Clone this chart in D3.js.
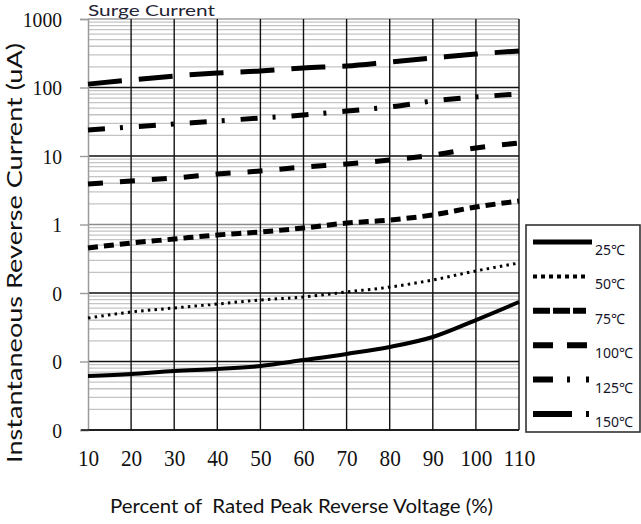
<!DOCTYPE html>
<html><head><meta charset="utf-8">
<script src="https://cdn.jsdelivr.net/npm/d3@7"></script>
<style>html,body{margin:0;padding:0;background:#fff;overflow:hidden}</style>
</head><body>
<svg id="chart" width="641" height="524" xmlns="http://www.w3.org/2000/svg"></svg>
<script>
// ---------- data ----------
const xValues = [10, 20, 30, 40, 50, 60, 70, 80, 90, 100, 110];
const xTickLabels = ["10", "20", "30", "40", "50", "60", "70", "80", "90", "100", "110"];
const yTickValues = [0.001, 0.01, 0.1, 1, 10, 100, 1000];
const yTickLabels = ["0", "0", "0", "1", "10", "100", "1000"];
const seriesNames = ["25℃", "50℃", "75℃", "100℃", "125℃", "150℃"];
const s25  = [0.00614, 0.00657, 0.00726, 0.00777, 0.00859, 0.0105, 0.0129, 0.0163, 0.0228, 0.0403, 0.0739];
const s50  = [0.0431, 0.0528, 0.0604, 0.0691, 0.0790, 0.0874, 0.1035, 0.122, 0.155, 0.210, 0.274];
const s75  = [0.454, 0.537, 0.614, 0.703, 0.777, 0.889, 1.05, 1.16, 1.38, 1.80, 2.20];
const s100 = [3.90, 4.32, 4.77, 5.46, 6.04, 6.90, 7.64, 8.74, 10.3, 13.1, 15.5];
const s125 = [24.0, 26.5, 29.3, 32.4, 35.9, 39.7, 45.4, 51.9, 63.5, 72.6, 80.4];
const s150 = [112, 129, 147, 163, 174, 193, 206, 236, 270, 308, 341];
const seriesValues = [s25, s50, s75, s100, s125, s150];

// ---------- styles ----------
const plotStyles = [
  {w: 4, dash: null},
  {w: 3, dash: "2.5,4.2"},
  {w: 5, dash: "10,6"},
  {w: 5, dash: "15,17"},
  {w: 5, dash: "17,15,3,16"},
  {w: 5, dash: "34,17"}
];
const legendStyles = [
  {w: 5, dash: null, len: 59},
  {w: 4, dash: "4,4", len: 56},
  {w: 6, dash: "17,3", len: 53},
  {w: 6, dash: "20,14", len: 54},
  {w: 6, dash: "20,14,3,16,3,100", len: 58},
  {w: 6, dash: "39,14,3,100", len: 58}
];

const svg = d3.select("#chart");
const L = 88, R = 519, T = 19, B = 430;
const x = d3.scaleLinear().domain([10, 110]).range([L, R]);
const y = d3.scaleLog().domain([0.001, 1000]).range([B, T]);

const textFont = "Lato, 'Open Sans', 'Noto Sans', sans-serif";
const numFont = "'Liberation Serif', 'DejaVu Serif', serif";

// minor gridlines
const minorTicks = y.ticks().filter(v => Math.abs(Math.log10(v) - Math.round(Math.log10(v))) > 1e-6);
svg.append("g").selectAll("line").data(minorTicks).join("line")
  .attr("x1", L).attr("x2", R)
  .attr("y1", d => y(d)).attr("y2", d => y(d))
  .attr("stroke", "#c4c4c4").attr("stroke-width", 1.3);

// major horizontal gridlines
svg.append("g").selectAll("line").data(yTickValues).join("line")
  .attr("x1", L).attr("x2", R)
  .attr("y1", d => y(d)).attr("y2", d => y(d))
  .attr("stroke", d => (d === 1000 ? "#a0a0a0" : d === 1 ? "#8c8c8c" : "#111"))
  .attr("stroke-width", 1.4);

// vertical gridlines
svg.append("g").selectAll("line").data(xValues.slice(1)).join("line")
  .attr("x1", d => x(d)).attr("x2", d => x(d))
  .attr("y1", T).attr("y2", B)
  .attr("stroke", "#111").attr("stroke-width", 1.4);

// y axis (left)
const yAxis = d3.axisLeft(y).tickValues(yTickValues)
  .tickFormat((d, i) => yTickLabels[i]).tickSize(8).tickPadding(18);
const gy = svg.append("g").attr("transform", `translate(${L},0)`).call(yAxis);
gy.select(".domain").attr("stroke", "#9a9a9a").attr("stroke-width", 1.5);
gy.selectAll(".tick line").attr("stroke", "#9a9a9a").attr("stroke-width", 1.4);
gy.selectAll(".tick text")
  .attr("font-family", numFont).attr("font-size", 22).attr("fill", "#111")
  .attr("textLength", (d, i) => yTickLabels[i].length * 9.8)
  .attr("lengthAdjust", "spacingAndGlyphs");

// x axis (bottom)
const xAxis = d3.axisBottom(x).tickValues(xValues)
  .tickFormat((d, i) => xTickLabels[i]).tickSize(0).tickPadding(22);
const gx = svg.append("g").attr("transform", `translate(0,${B})`).call(xAxis);
gx.select(".domain").remove();
gx.selectAll(".tick text")
  .attr("font-family", numFont).attr("font-size", 24).attr("fill", "#111")
  .attr("dy", "0.6em")
  .attr("textLength", (d, i) => xTickLabels[i].length * 10.6)
  .attr("lengthAdjust", "spacingAndGlyphs");
svg.append("line").attr("x1", L - 7).attr("x2", R).attr("y1", B).attr("y2", B)
  .attr("stroke", "#111").attr("stroke-width", 1.4);

// series lines
const line = d3.line()
  .x((d, i) => x(xValues[i]))
  .y(d => y(d))
  .curve(d3.curveMonotoneX);
svg.append("g").selectAll("path").data(seriesValues).join("path")
  .attr("d", d => line(d))
  .attr("fill", "none")
  .attr("stroke", "#000")
  .attr("stroke-width", (d, i) => plotStyles[i].w)
  .attr("stroke-dasharray", (d, i) => plotStyles[i].dash)
  .attr("stroke-linecap", "butt");

// legend
const lg = svg.append("g");
lg.append("rect").attr("x", 526).attr("y", 225).attr("width", 114).attr("height", 207)
  .attr("fill", "#fff").attr("stroke", "#333").attr("stroke-width", 1.6);
const legendY = d3.scaleLinear().domain([0, 5]).range([242, 414]);
const items = lg.selectAll("g.item").data(seriesNames).join("g").attr("class", "item")
  .attr("transform", (d, i) => `translate(533,${legendY(i)})`);
items.append("line").attr("x1", 0).attr("x2", (d, i) => legendStyles[i].len)
  .attr("y1", 0).attr("y2", 0)
  .attr("stroke", "#000")
  .attr("stroke-width", (d, i) => legendStyles[i].w)
  .attr("stroke-dasharray", (d, i) => legendStyles[i].dash);
items.append("text").attr("x", 62).attr("y", 13)
  .attr("font-family", "'Noto Sans', 'Noto Sans CJK SC', sans-serif")
  .attr("font-size", 14).attr("fill", "#15152a")
  .text(d => d);

// titles
svg.append("text").attr("x", L).attr("y", 16)
  .attr("font-family", textFont).attr("font-size", 16).attr("fill", "#1f2333")
  .attr("textLength", 127).attr("lengthAdjust", "spacingAndGlyphs")
  .text("Surge Current");

svg.append("text")
  .attr("transform", "translate(22,253) rotate(-90)")
  .attr("text-anchor", "middle")
  .attr("font-family", textFont).attr("font-size", 22).attr("fill", "#111")
  .attr("textLength", 420).attr("lengthAdjust", "spacingAndGlyphs")
  .text("Instantaneous Reverse Current (uA)");

svg.append("text").attr("x", 110).attr("y", 513)
  .attr("font-family", textFont).attr("font-size", 20).attr("fill", "#111")
  .style("white-space", "pre")
  .attr("textLength", 383).attr("lengthAdjust", "spacingAndGlyphs")
  .text("Percent of  Rated Peak Reverse Voltage (%)");
</script>
</body></html>
